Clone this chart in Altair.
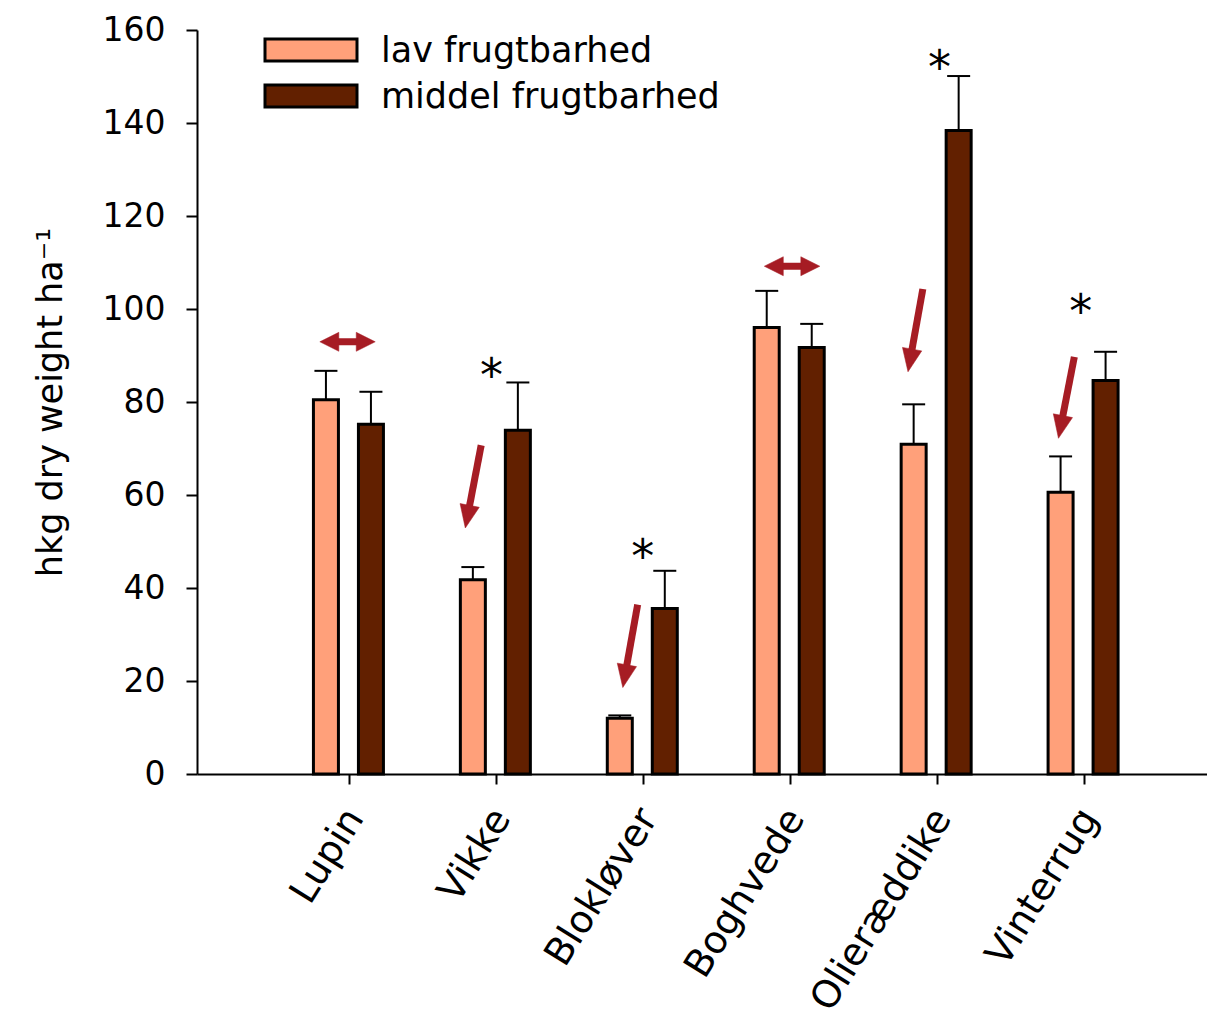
import json
import math
import altair as alt
import pandas as pd

# ---------------- data ----------------
categories = ["Lupin", "Vikke", "Blokløver", "Boghvede", "Olieræddike", "Vinterrug"]
cat_pos = [1, 2, 3, 4, 5, 6]
groups = ["lav frugtbarhed", "middel frugtbarhed"]
lav = [80.5, 41.8, 12.0, 96.0, 70.9, 60.6]
lav_err = [6.2, 2.7, 0.6, 7.9, 8.6, 7.7]
middel = [75.2, 73.9, 35.6, 91.7, 138.4, 84.6]
middel_err = [7.0, 10.3, 8.1, 5.1, 11.7, 6.2]

# significance stars (x in category units, y in hkg)
star_x = [1.97, 3.00, 5.02, 5.98]
star_y = [87.4, 48.4, 153.6, 101.1]

# slanted "decrease" arrows: tail and tip
arr_tail_x = [1.900, 2.965, 4.906, 5.937]
arr_tail_y = [70.7, 36.4, 104.3, 89.7]
arr_tip_x = [1.792, 2.864, 4.805, 5.829]
arr_tip_y = [52.9, 18.6, 86.5, 72.2]

# horizontal double arrows ("no change")
darr_x1 = [0.802, 3.827]
darr_x2 = [1.179, 4.205]
darr_y = [92.95, 109.2]

# ---------------- layout ----------------
W, H = 1010, 744
XMAX = W / 148.4
YMAX = 160
sx = W / XMAX
sy = H / YMAX

C_LAV = "#FFA07A"
C_MID = "#622000"
C_ARROW = "#A61C24"
FONT = "DejaVu Sans"
HEAD = 23   # diagonal arrow head length, px
DHEAD = 19  # double arrow head length, px

xs = alt.Scale(domain=[0, XMAX], nice=False, zero=False)
ys = alt.Scale(domain=[0, YMAX], nice=False)

label_expr = json.dumps(categories, ensure_ascii=False) + "[datum.value - 1]"

x_axis = alt.Axis(
    values=cat_pos, labelExpr=label_expr, labelAngle=-58, labelAlign="right",
    labelBaseline="middle", labelFontSize=38, labelFont=FONT, labelColor="black",
    labelPadding=28, labelOffset=6, labelLimit=0, labelOverlap=False,
    tickSize=10, tickWidth=2, tickColor="black",
    domainColor="black", domainWidth=2, grid=False, title=None,
)
y_axis = alt.Axis(
    values=list(range(0, 161, 20)), tickSize=11, tickWidth=2, tickColor="black",
    labelPadding=21, labelFontSize=33, labelFont=FONT, labelColor="black",
    domainColor="black", domainWidth=2, grid=False,
    title="hkg dry weight ha⁻¹", titleFont=FONT, titleFontSize=35,
    titleFontWeight="normal", titleColor="black", titlePadding=34,
)


def X(field):
    return alt.X(field, type="quantitative", scale=xs, axis=x_axis)


def Y(field):
    return alt.Y(field, type="quantitative", scale=ys, axis=y_axis)


bars = pd.DataFrame({
    "pos": cat_pos,
    "cat": categories,
    "lav": lav,
    "lav_top": [v + e for v, e in zip(lav, lav_err)],
    "mid": middel,
    "mid_top": [v + e for v, e in zip(middel, middel_err)],
})
base = alt.Chart(bars)

bar_lav = base.mark_bar(width=25, xOffset=-23, fill=C_LAV, stroke="black", strokeWidth=3).encode(
    x=X("pos"), y=Y("lav"))
bar_mid = base.mark_bar(width=25, xOffset=22, fill=C_MID, stroke="black", strokeWidth=3).encode(
    x=X("pos"), y=Y("mid"))
err_lav = base.mark_rule(xOffset=-23, color="black", strokeWidth=2).encode(
    x=X("pos"), y=Y("lav"), y2="lav_top:Q")
err_mid = base.mark_rule(xOffset=22, color="black", strokeWidth=2).encode(
    x=X("pos"), y=Y("mid"), y2="mid_top:Q")
cap_lav = base.mark_tick(orient="horizontal", size=23, thickness=2, xOffset=-23, color="black", opacity=1).encode(
    x=X("pos"), y=Y("lav_top"))
cap_mid = base.mark_tick(orient="horizontal", size=23, thickness=2, xOffset=22, color="black", opacity=1).encode(
    x=X("pos"), y=Y("mid_top"))

# ---- arrows ----
shafts = []
heads = []
for tx, ty, px, py in zip(arr_tail_x, arr_tail_y, arr_tip_x, arr_tip_y):
    dxp = (px - tx) * sx
    dyp = -(py - ty) * sy
    L = math.hypot(dxp, dyp)
    ang = math.degrees(math.atan2(-dxp, dyp)) % 360
    f = 1 - 0.5 * HEAD / L
    shafts.append({"x": tx, "y": ty, "x2": tx + (px - tx) * f, "y2": ty + (py - ty) * f})
    heads.append({"x": px, "y": py, "ang": ang})

dshafts = []
dheads = []
for x1, x2, yy in zip(darr_x1, darr_x2, darr_y):
    off = 0.5 * DHEAD / sx
    dshafts.append({"x": x1 + off, "y": yy, "x2": x2 - off, "y2": yy})
    dheads.append({"x": x1, "y": yy, "ang": 90})
    dheads.append({"x": x2, "y": yy, "ang": 270})


def shaft_layer(rows, width):
    return alt.Chart(pd.DataFrame(rows)).mark_rule(color=C_ARROW, strokeWidth=width, strokeCap="butt").encode(
        x=X("x"), x2="x2:Q", y=Y("y"), y2="y2:Q",
    )


def head_layer(rows, path, size):
    return alt.Chart(pd.DataFrame(rows)).mark_point(
        shape=path, size=size, filled=True, fill=C_ARROW, stroke=C_ARROW, strokeWidth=0.5, opacity=1
    ).encode(
        x=X("x"), y=Y("y"), angle=alt.Angle("ang:Q", scale=None),
    )


arrow_shafts = shaft_layer(shafts, 7)
arrow_heads = head_layer(heads, "M -0.85 -2 L 0.85 -2 L 0 0 Z", HEAD * HEAD)
darrow_shafts = shaft_layer(dshafts, 7)
darrow_heads = head_layer(dheads, "M -1 -2 L 1 -2 L 0 0 Z", DHEAD * DHEAD)

# ---- stars ----
stars = alt.Chart(pd.DataFrame({"x": star_x, "y": star_y})).mark_text(
    text="*", fontSize=46, font=FONT, color="black", baseline="alphabetic", dy=23
).encode(x=X("x"), y=Y("y"))

# ---- legend ----
leg1_df = pd.DataFrame({"label": [groups[0]]})
leg2_df = pd.DataFrame({"label": [groups[1]]})
leg_rect1 = alt.Chart(leg1_df).mark_rect(fill=C_LAV, stroke="black", strokeWidth=3).encode(
    x=alt.value(68), x2=alt.value(160), y=alt.value(9), y2=alt.value(31))
leg_rect2 = alt.Chart(leg2_df).mark_rect(fill=C_MID, stroke="black", strokeWidth=3).encode(
    x=alt.value(68), x2=alt.value(160), y=alt.value(55), y2=alt.value(77))
leg_text1 = alt.Chart(leg1_df).mark_text(align="left", baseline="alphabetic", fontSize=35, font=FONT, color="black").encode(
    x=alt.value(184), y=alt.value(32), text="label:N")
leg_text2 = alt.Chart(leg2_df).mark_text(align="left", baseline="alphabetic", fontSize=35, font=FONT, color="black").encode(
    x=alt.value(184), y=alt.value(78), text="label:N")

chart = alt.layer(
    bar_lav, bar_mid, err_lav, err_mid, cap_lav, cap_mid,
    arrow_shafts, arrow_heads, darrow_shafts, darrow_heads, stars,
    leg_rect1, leg_rect2, leg_text1, leg_text2,
).properties(
    width=W, height=H,
    autosize=alt.AutoSizeParams(type="none"),
    padding={"left": 189, "top": 22, "right": 0, "bottom": 251},
    background="white",
).configure_view(stroke=None)

chart.save("out.html", embed_options={"renderer": "svg", "actions": False})
